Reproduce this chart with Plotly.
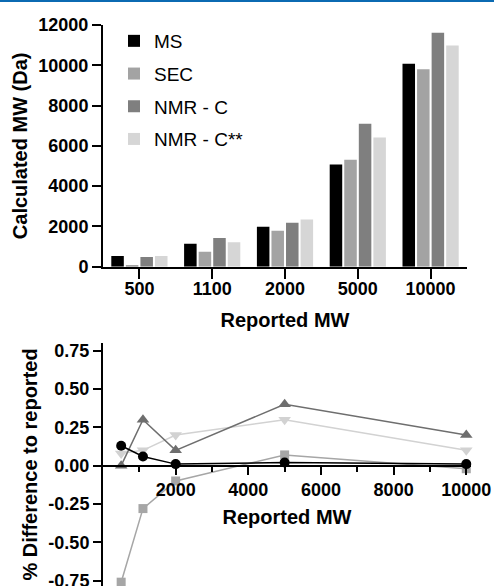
import plotly.graph_objects as go

W, H = 494, 586

# ---------------- data ----------------
reported = ["500", "1100", "2000", "5000", "10000"]
reported_num = [500, 1100, 2000, 5000, 10000]

ms_mw = [530, 1140, 1980, 5070, 10080]
sec_mw = [90, 745, 1780, 5310, 9800]
nmr_c_mw = [480, 1420, 2180, 7100, 11620]
nmr_css_mw = [530, 1220, 2340, 6420, 10980]

ms_diff = [0.13, 0.06, 0.01, 0.02, 0.01]
sec_diff = [-0.76, -0.28, -0.10, 0.07, -0.02]
nmr_c_diff = [0.0, 0.30, 0.10, 0.40, 0.20]
nmr_css_diff = [0.08, 0.10, 0.20, 0.30, 0.10]

series_names = ["MS", "SEC", "NMR - C", "NMR - C**"]
bar_colors = ["#000000", "#a3a3a3", "#7f7f7f", "#d6d6d6"]
line_colors = ["#000000", "#a6a6a6", "#6e6e6e", "#d2d2d2"]

top_yticks = [0, 2000, 4000, 6000, 8000, 10000, 12000]
bot_yticks = [-0.75, -0.50, -0.25, 0.0, 0.25, 0.50, 0.75]
bot_yticktext = ["-0.75", "-0.50", "-0.25", "0.00", "0.25", "0.50", "0.75"]
bot_xticks = [2000, 4000, 6000, 8000, 10000]
bot_xminor = [1000, 3000, 5000, 7000, 9000]

FONT = "Liberation Sans, Arial, sans-serif"

fig = go.Figure()

# ---------------- bars ----------------
for name, vals, col in zip(series_names, [ms_mw, sec_mw, nmr_c_mw, nmr_css_mw], bar_colors):
    fig.add_trace(go.Bar(
        x=reported, y=vals, name=name, marker=dict(color=col, line=dict(width=0)),
        xaxis="x", yaxis="y", legendgroup=name,
    ))

# ---------------- lines ----------------
line_specs = [
    ("NMR - C**", nmr_css_diff, line_colors[3], "triangle-down", 11),
    ("SEC", sec_diff, line_colors[1], "square", 9),
    ("NMR - C", nmr_c_diff, line_colors[2], "triangle-up", 11),
    ("MS", ms_diff, line_colors[0], "circle", 10),
]
for name, vals, col, sym, sz in line_specs:
    fig.add_trace(go.Scatter(
        x=reported_num, y=vals, mode="lines+markers", name=name,
        line=dict(color=col, width=1.5),
        marker=dict(symbol=sym, size=sz, color=col),
        xaxis="x2", yaxis="y2", showlegend=False, cliponaxis=False,
    ))

def px_x(p):
    return p / W

def px_y(p):
    return 1 - p / H

bot_yrange = [-0.785, 0.80]
bot_ydom = [0.0, px_y(343)]
zero_pos = bot_ydom[0] + (0 - bot_yrange[0]) / (bot_yrange[1] - bot_yrange[0]) * (bot_ydom[1] - bot_ydom[0])

axis_common = dict(
    showline=True, linecolor="black", linewidth=2, showgrid=False, zeroline=False,
    ticks="outside", tickcolor="black", tickwidth=2, automargin=False,
    ticklabeloverflow="allow",
    tickfont=dict(family=FONT, size=18, color="black", weight="bold"),
)
title_font = dict(family=FONT, size=20, color="black", weight="bold")

fig.update_layout(
    template="none",
    width=W, height=H, margin=dict(l=0, r=0, t=0, b=0, autoexpand=False),
    paper_bgcolor="white", plot_bgcolor="white",
    barmode="group", bargap=0.2, bargroupgap=0.14,
    font=dict(family=FONT, color="black"),
    xaxis=dict(
        **axis_common, type="category", domain=[px_x(103), px_x(467)],
        range=[-0.5, 4.5], ticklen=10, anchor="y", ticklabelstandoff=-5,
        title=dict(text="Reported MW", font=title_font, standoff=15),
    ),
    yaxis=dict(
        **axis_common, domain=[px_y(266.7), px_y(25)], range=[0, 12000],
        tickvals=top_yticks, tickformat="d", ticklen=9, anchor="x",
        title=dict(text="Calculated MW (Da)", font=title_font, standoff=5),
    ),
    xaxis2=dict(
        **axis_common, domain=[px_x(103), px_x(471)], range=[0, 10130],
        tickvals=bot_xticks, tickformat="d", ticklen=8, anchor="free", position=zero_pos,
        minor=dict(tickvals=bot_xminor, ticks="outside", ticklen=5, tickwidth=2, tickcolor="black"),
        title=dict(text="Reported MW", font=title_font, standoff=10),
    ),
    yaxis2=dict(
        **axis_common, domain=bot_ydom, range=bot_yrange,
        tickvals=bot_yticks, ticktext=bot_yticktext, ticklen=8, anchor="x2",
        title=dict(text="% Difference to reported", font=title_font, standoff=5),
    ),
    legend=dict(
        x=px_x(114), y=px_y(22), xanchor="left", yanchor="top",
        font=dict(family=FONT, size=19, color="black"),
        bgcolor="rgba(0,0,0,0)", tracegroupgap=5, traceorder="grouped",
    ),
    shapes=[dict(type="rect", xref="paper", yref="paper", x0=0, x1=1,
                 y0=px_y(2), y1=1, fillcolor="#0b6ab2", line=dict(width=0))],
)

fig.write_html("out.html")
